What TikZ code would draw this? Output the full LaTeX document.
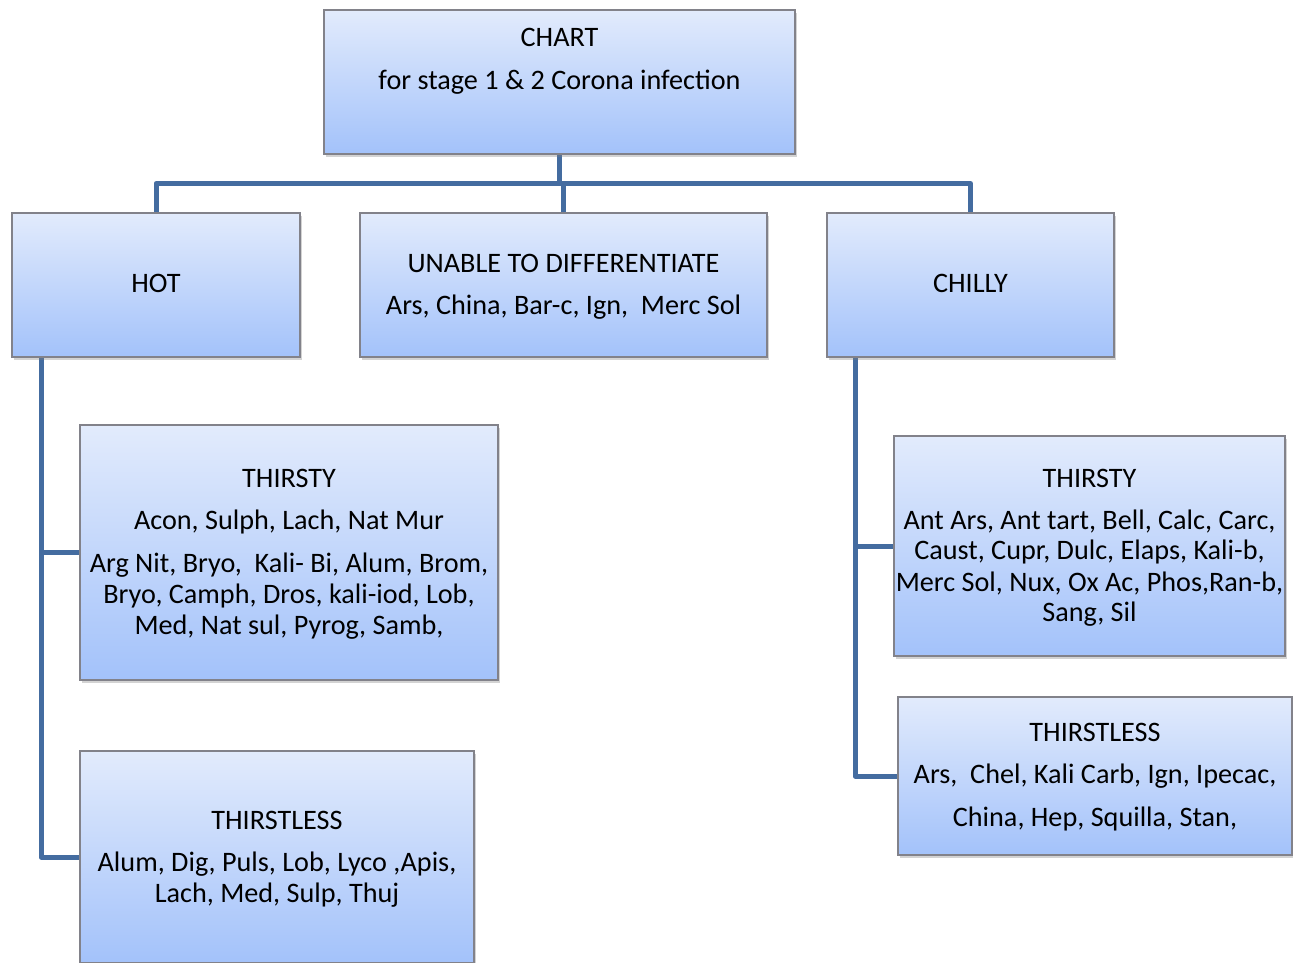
\documentclass[tikz,border=0pt]{standalone}
\usepackage{fontspec}
\setmainfont{Carlito}
\usetikzlibrary{shadows}
\pgfdeclarelayer{background}
\pgfsetlayers{background,main}
\definecolor{boxtop}{RGB}{226,235,252}
\definecolor{boxbot}{RGB}{163,194,250}
\definecolor{boxline}{RGB}{130,130,138}
\definecolor{conncol}{RGB}{68,108,160}
\tikzset{
  box/.style={draw=boxline, line width=1.2pt, top color=boxtop, bottom color=boxbot,
    anchor=north west, inner sep=0pt, outer sep=0pt,
    drop shadow={shadow xshift=1.5pt, shadow yshift=-2.5pt, opacity=0.35}},
  lbl/.style={anchor=base, inner sep=0pt, font=\fontsize{28.2}{31}\selectfont},
  conn/.style={draw=conncol, line width=5pt, line join=round},
}
\begin{document}
\begin{tikzpicture}[x=1pt,y=-1pt]
\useasboundingbox (0,0) rectangle (1293,962);
% boxes
\node[box, minimum width=471pt, minimum height=144pt] (chart)  at (324,10)  {};
\node[box, minimum width=288pt, minimum height=144pt] (hot)    at (12,213)  {};
\node[box, minimum width=407pt, minimum height=144pt] (unable) at (360,213) {};
\node[box, minimum width=287pt, minimum height=144pt] (chilly) at (827,213) {};
\node[box, minimum width=418pt, minimum height=255pt] (thl)    at (80,425)  {};
\node[box, minimum width=394pt, minimum height=212pt] (tll)    at (80,751)  {};
\node[box, minimum width=391pt, minimum height=220pt] (thr)    at (894,436) {};
\node[box, minimum width=394pt, minimum height=158pt] (tlr)    at (898,697) {};
% texts
\node[lbl] (chart1) at (559.5,46)   {CHART};
\node[lbl] (chart2) at (559.5,89.3) {for stage 1 \& 2 Corona infection};
\node[lbl] (hot1)   at (156,292.5)  {HOT};
\node[lbl] (un1)    at (563.5,272)  {UNABLE TO DIFFERENTIATE};
\node[lbl] (un2)    at (563.5,314.5){Ars, China, Bar-c, Ign, \ Merc Sol};
\node[lbl] (chi1)   at (970.5,292.5){CHILLY};
\node[lbl] (thl1)   at (289,487)    {THIRSTY};
\node[lbl] (thl2)   at (289,529)    {Acon, Sulph, Lach, Nat Mur};
\node[lbl] (thl3)   at (289,572.5)  {Arg Nit, Bryo, \ Kali- Bi, Alum, Brom,};
\node[lbl] (thl4)   at (289,603.5)  {Bryo, Camph, Dros, kali-iod, Lob,};
\node[lbl] (thl5)   at (289,634)    {Med, Nat sul, Pyrog, Samb,};
\node[lbl] (tll1)   at (277,829)    {THIRSTLESS};
\node[lbl] (tll2)   at (277,871.5)  {Alum, Dig, Puls, Lob, Lyco ,Apis,};
\node[lbl] (tll3)   at (277,902.5)  {Lach, Med, Sulp, Thuj};
\node[lbl] (thr1)   at (1089.5,487) {THIRSTY};
\node[lbl] (thr2)   at (1089.5,529.5){Ant Ars, Ant tart, Bell, Calc, Carc,};
\node[lbl] (thr3)   at (1089.5,559.5){Caust, Cupr, Dulc, Elaps, Kali-b,};
\node[lbl] (thr4)   at (1089.5,591){Merc Sol, Nux, Ox Ac, Phos,Ran-b,};
\node[lbl] (thr5)   at (1089.5,621){Sang, Sil};
\node[lbl] (tlr1)   at (1095,741)   {THIRSTLESS};
\node[lbl] (tlr2)   at (1095,783.5) {Ars, \ Chel, Kali Carb, Ign, Ipecac,};
\node[lbl] (tlr3)   at (1095,826.5) {China, Hep, Squilla, Stan,};
% connectors
\begin{pgfonlayer}{background}
\coordinate (busy) at (0,183.5);
\coordinate (hotx) at (41,0);
\coordinate (chix) at (855,0);
\draw[conn] (chart.south) -- (chart.south |- busy);
\draw[conn] (hot.north) -- (hot.north |- busy) -- (chilly.north |- busy) -- (chilly.north);
\draw[conn] (unable.north) -- (unable.north |- busy);
\draw[conn] (hot.south -| hotx) -- (tll.west -| hotx) -- (tll.west);
\draw[conn] (thl.west -| hotx) -- (thl.west);
\draw[conn] (chilly.south -| chix) -- (tlr.west -| chix) -- (tlr.west);
\draw[conn] (thr.west -| chix) -- (thr.west);
\end{pgfonlayer}
\end{tikzpicture}
\end{document}
